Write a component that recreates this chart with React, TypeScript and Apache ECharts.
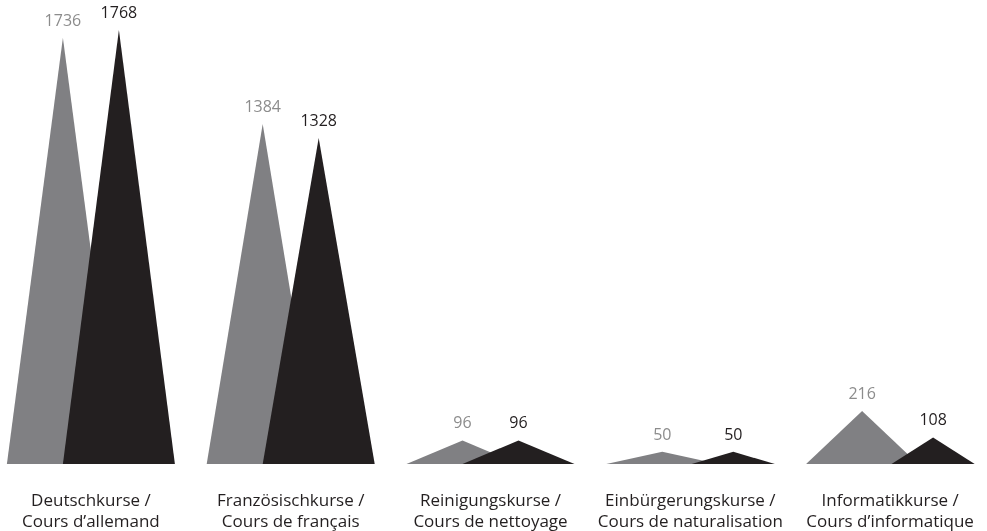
import React, { useEffect, useRef } from "react";
import * as echarts from "echarts";

const categories = [
  "Deutschkurse /\nCours d’allemand",
  "Französischkurse /\nCours de français",
  "Reinigungskurse /\nCours de nettoyage",
  "Einbürgerungskurse /\nCours de naturalisation",
  "Informatikkurse /\nCours d’informatique",
];
const greyValues = [1736, 1384, 96, 50, 216];
const blackValues = [1768, 1328, 96, 50, 108];
// categories where the black triangle is drawn narrower and shifted
const narrowBlack = [false, false, false, true, true];

export default function App() {
  const ref = useRef<HTMLDivElement>(null);
  useEffect(() => {
    if (!ref.current) return;
    const chart = echarts.init(ref.current, null, { renderer: "svg" });
    const font = "'Open Sans', 'Noto Sans', sans-serif";
    chart.setOption({
      animation: false,
      grid: { left: 0, right: 0, top: 22, bottom: 67 },
      xAxis: {
        type: "category",
        data: categories,
        axisLine: { show: false },
        axisTick: { show: false },
        axisLabel: {
          margin: 25,
          fontSize: 17,
          lineHeight: 21,
          color: "#231f20",
          fontFamily: font,
          interval: 0,
        },
      },
      yAxis: {
        type: "value",
        min: 0,
        max: 1800,
        show: false,
        splitLine: { show: false },
      },
      series: [
        {
          type: "pictorialBar",
          symbol: "triangle",
          barWidth: 112,
          barGap: "-50%",
          symbolSize: ["100%", "100%"],
          itemStyle: { color: "#808083" },
          label: {
            show: true,
            position: "top",
            distance: 10,
            fontSize: 16,
            color: "#8c8c8c",
            fontFamily: font,
          },
          data: greyValues,
        },
        {
          type: "pictorialBar",
          symbol: "triangle",
          barWidth: 112,
          barGap: "-50%",
          symbolSize: ["100%", "100%"],
          itemStyle: { color: "#231f20" },
          label: {
            show: true,
            position: "top",
            distance: 10,
            fontSize: 16,
            color: "#231f20",
            fontFamily: font,
          },
          data: blackValues.map((v, i) =>
            narrowBlack[i]
              ? {
                  value: v,
                  symbolSize: [83, "100%"],
                  symbolOffset: [15, 0],
                  label: { offset: [15, 0] },
                }
              : v
          ),
        },
      ],
    });
    return () => chart.dispose();
  }, []);
  return (
    <div
      ref={ref}
      style={{ position: "fixed", left: -9, top: 0, width: 999, height: 531 }}
    />
  );
}
